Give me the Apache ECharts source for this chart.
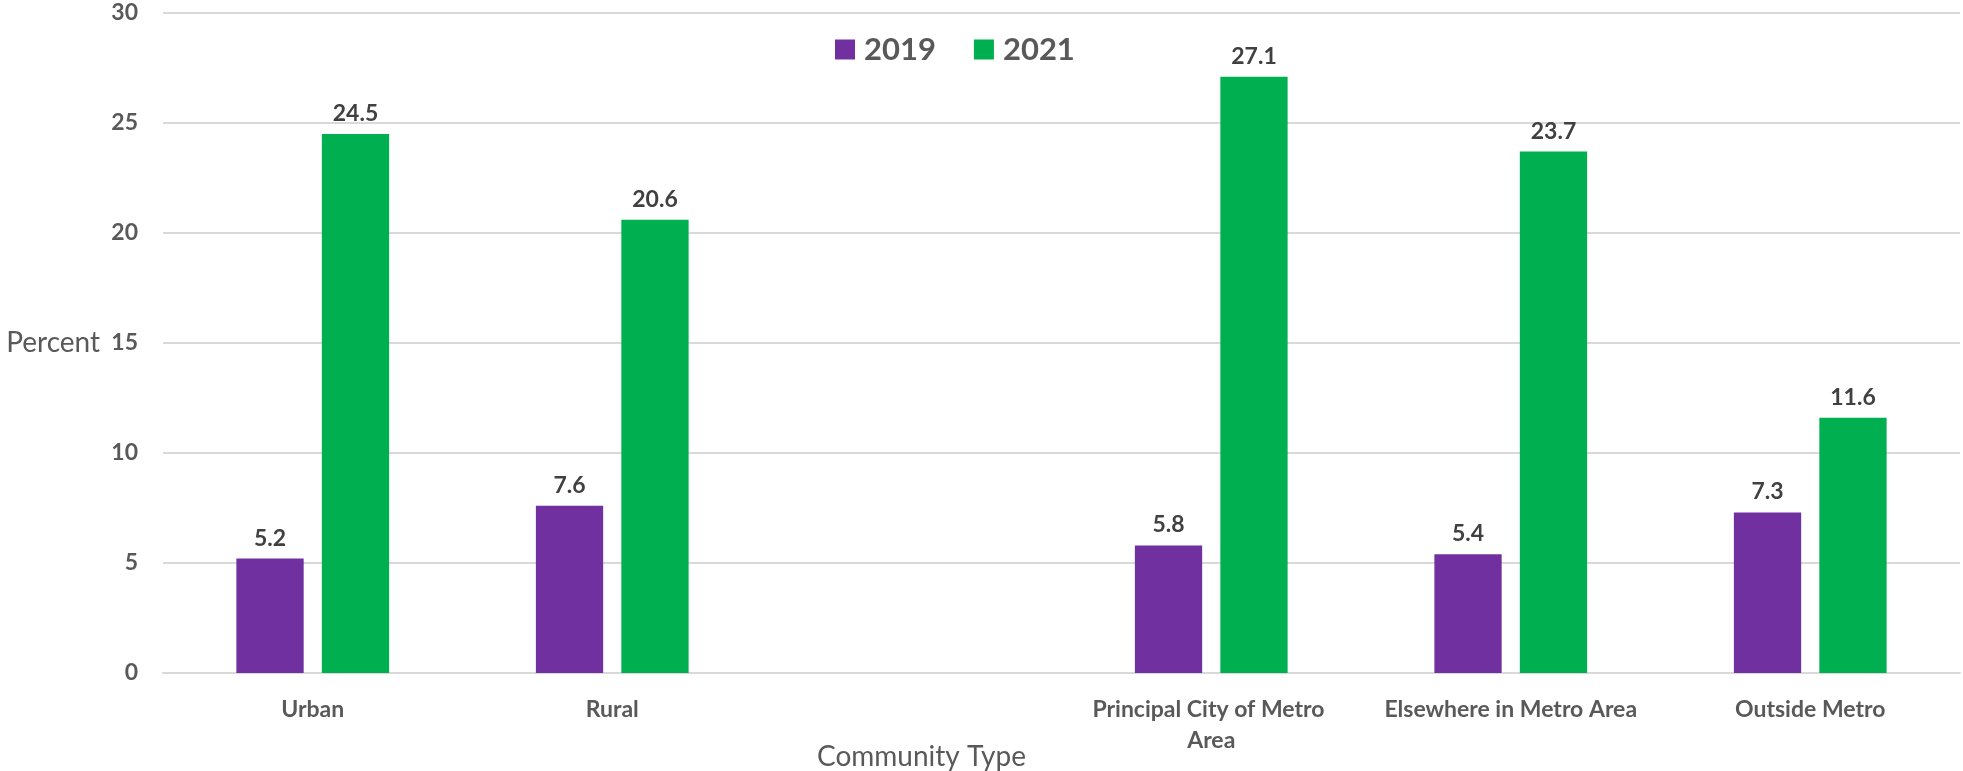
<!DOCTYPE html>
<html>
<head>
<meta charset="utf-8">
<script src="https://cdn.jsdelivr.net/npm/echarts@6/dist/echarts.min.js"></script>
<style>
  html, body { margin: 0; padding: 0; background: #fff; }
  #chart { width: 1963px; height: 771px; }
</style>
</head>
<body>
<div id="chart"></div>
<script>
// community types (empty slot between Rural and Principal City kept as in the source)
var categories = ['Urban', 'Rural', '', 'Principal City of Metro Area', 'Elsewhere in Metro Area', 'Outside Metro'];
var values2019 = [5.2, 7.6, '-', 5.8, 5.4, 7.3];
var values2021 = [24.5, 20.6, '-', 27.1, 23.7, 11.6];
var yTicks = { min: 0, max: 30, interval: 5 };

var FONT = 'Lato';

var chart = echarts.init(document.getElementById('chart'));

var labelStyle = {
    show: true,
    position: 'top',
    distance: 9,
    fontFamily: FONT,
    fontWeight: 'bold',
    fontSize: 23,
    color: '#404040'
};

chart.setOption({
    animation: false,
    title: {
        text: 'Community Type',
        left: 812,
        top: 738,
        textStyle: { fontFamily: FONT, fontWeight: 'normal', fontSize: 28, color: '#595959' }
    },
    legend: {
        left: 830,
        top: 29,
        itemWidth: 20,
        itemHeight: 20,
        itemGap: 38,
        icon: 'rect',
        textStyle: { fontFamily: FONT, fontWeight: 'bold', fontSize: 31, color: '#595959', padding: [0, 0, 0, 4] },
        data: ['2019', '2021']
    },
    grid: { left: 163, right: 3, top: 13, bottom: 98 },
    xAxis: {
        type: 'category',
        data: categories,
        axisTick: { show: false },
        axisLine: { lineStyle: { color: '#d9d9d9', width: 2 } },
        axisLabel: {
            interval: 0,
            margin: 21,
            width: 265,
            overflow: 'break',
            lineHeight: 31,
            fontFamily: FONT,
            fontWeight: 'bold',
            fontSize: 23,
            color: '#595959'
        }
    },
    yAxis: {
        type: 'value',
        min: yTicks.min,
        max: yTicks.max,
        interval: yTicks.interval,
        name: 'Percent',
        nameLocation: 'middle',
        nameRotate: 0,
        nameGap: 63,
        nameTextStyle: { fontFamily: FONT, fontSize: 28, color: '#595959', align: 'right' },
        axisLine: { show: false },
        axisTick: { show: false },
        splitLine: { lineStyle: { color: '#d9d9d9', width: 2 } },
        axisLabel: {
            margin: 25,
            fontFamily: FONT,
            fontWeight: 'bold',
            fontSize: 23,
            color: '#595959'
        }
    },
    series: [{
        name: '2019',
        type: 'bar',
        data: values2019,
        itemStyle: { color: '#7030A0' },
        barGap: '27%',
        barCategoryGap: '49%',
        label: labelStyle
    }, {
        name: '2021',
        type: 'bar',
        data: values2021,
        itemStyle: { color: '#00B050' },
        label: labelStyle
    }]
});
</script>
</body>
</html>
